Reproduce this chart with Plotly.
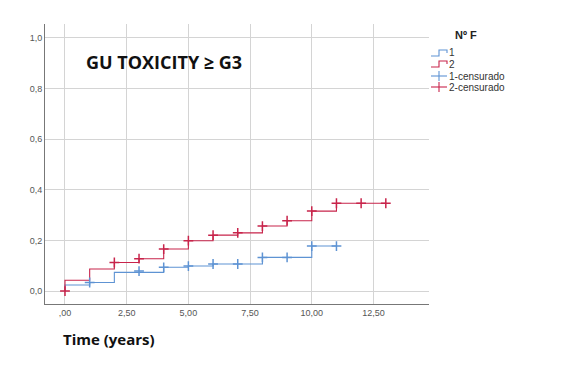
import plotly.graph_objects as go

# ---- data ----
g2_times = [0, 0, 1, 2, 3, 4, 5, 6, 7, 8, 9, 10, 11, 13]
g2_values = [0, 0.043, 0.087, 0.113, 0.128, 0.166, 0.199, 0.221, 0.230, 0.257, 0.278, 0.316, 0.347, 0.347]
g2_cens_times = [0, 2, 3, 4, 5, 6, 7, 8, 9, 10, 11, 12, 13]
g2_cens_values = [0, 0.113, 0.128, 0.166, 0.199, 0.221, 0.230, 0.257, 0.278, 0.316, 0.347, 0.347, 0.347]

g1_times = [0, 0, 1, 2, 4, 5, 6, 8, 10, 11]
g1_values = [0, 0.024, 0.034, 0.074, 0.094, 0.099, 0.107, 0.133, 0.178, 0.178]
g1_cens_times = [1, 3, 4, 5, 6, 7, 8, 9, 10, 11]
g1_cens_values = [0.034, 0.079, 0.094, 0.099, 0.107, 0.107, 0.133, 0.133, 0.178, 0.178]

x_tickvals = [0, 2.5, 5, 7.5, 10, 12.5]
x_ticktext = [",00", "2,50", "5,00", "7,50", "10,00", "12,50"]
y_tickvals = [0, 0.2, 0.4, 0.6, 0.8, 1.0]
y_ticktext = ["0,0", "0,2", "0,4", "0,6", "0,8", "1,0"]

legend_labels = ["1", "2", "1-censurado", "2-censurado"]

BLUE = "#5e93d3"
RED = "#c8244b"

OFF = 8  # page body margin
W, H = 573 - OFF, 367 - OFF
# plot area in screenshot pixels
L, R, T, B = 45, 429, 24, 304

fig = go.Figure()
fig.add_trace(go.Scatter(x=g1_times, y=g1_values, mode="lines", line=dict(color=BLUE, width=1.1, shape="hv"), showlegend=False))
fig.add_trace(go.Scatter(x=g2_times, y=g2_values, mode="lines", line=dict(color=RED, width=1.1, shape="hv"), showlegend=False))
fig.add_trace(go.Scatter(x=g1_cens_times, y=g1_cens_values, mode="markers",
                         marker=dict(symbol="cross-thin", size=7, line=dict(color=BLUE, width=1.5)), showlegend=False))
fig.add_trace(go.Scatter(x=g2_cens_times, y=g2_cens_values, mode="markers",
                         marker=dict(symbol="cross-thin", size=7, line=dict(color=RED, width=1.5)), showlegend=False))

def px(x):
    return (x - L) / (R - L)

def py(y):
    return (B - y) / (B - T)

# manual legend
fig.add_annotation(x=px(453), y=py(35), xref="paper", yref="paper", text="<b>Nº F</b>", showarrow=False,
                   xanchor="left", yanchor="middle", font=dict(family="Liberation Sans, Arial", size=11, color="#222"))
rows = [53, 64, 76, 87]
colors = [BLUE, RED, BLUE, RED]
for i, (lab, yy, c) in enumerate(zip(legend_labels, rows, colors)):
    fig.add_annotation(x=px(447), y=py(yy), xref="paper", yref="paper", text=lab, showarrow=False,
                       xanchor="left", yanchor="middle", font=dict(family="Liberation Sans, Arial", size=10, color="#333"))
    if i < 2:
        path = f"M {px(431)} {py(yy+3)} L {px(439)} {py(yy+3)} L {px(439)} {py(yy-3)} L {px(447)} {py(yy-3)} L {px(447)} {py(yy)}"
        fig.add_shape(type="path", path=path, xref="paper", yref="paper", line=dict(color=c, width=1.1))
    else:
        fig.add_shape(type="line", x0=px(431), x1=px(447), y0=py(yy), y1=py(yy), xref="paper", yref="paper",
                      line=dict(color=c, width=1.1))
        fig.add_shape(type="line", x0=px(439), x1=px(439), y0=py(yy - 5), y1=py(yy + 5), xref="paper", yref="paper",
                      line=dict(color=c, width=1.1))

fig.add_annotation(x=px(84), y=py(62), xref="paper", yref="paper", text="<b>GU TOXICITY ≥ G3</b>", showarrow=False,
                   xanchor="left", yanchor="middle", font=dict(family="Open Sans", size=18, color="#111"))
fig.add_annotation(x=px(61), y=py(339), xref="paper", yref="paper", text="<b>Time (years)</b>", showarrow=False,
                   xanchor="left", yanchor="middle", font=dict(family="Open Sans", size=15, color="#111"))

fig.update_layout(
    width=W, height=H,
    margin=dict(l=L - OFF, r=W - (R - OFF), t=T - OFF, b=H - (B - OFF)),
    paper_bgcolor="white", plot_bgcolor="white",
    showlegend=False,
    xaxis=dict(range=[-0.81, 14.75], tickvals=x_tickvals, ticktext=x_ticktext, showgrid=True, gridcolor="#d4d4d4",
               gridwidth=1, zeroline=False, showline=True, linecolor="#777", linewidth=1, ticks="",
               tickfont=dict(family="Liberation Sans, Arial", size=9, color="#555")),
    yaxis=dict(range=[-0.051, 1.055], tickvals=y_tickvals, ticktext=y_ticktext, showgrid=True, gridcolor="#d4d4d4",
               gridwidth=1, zeroline=False, showline=True, linecolor="#777", linewidth=1, ticks="",
               tickfont=dict(family="Liberation Sans, Arial", size=9, color="#555")),
)

fig.write_html("out.html")
